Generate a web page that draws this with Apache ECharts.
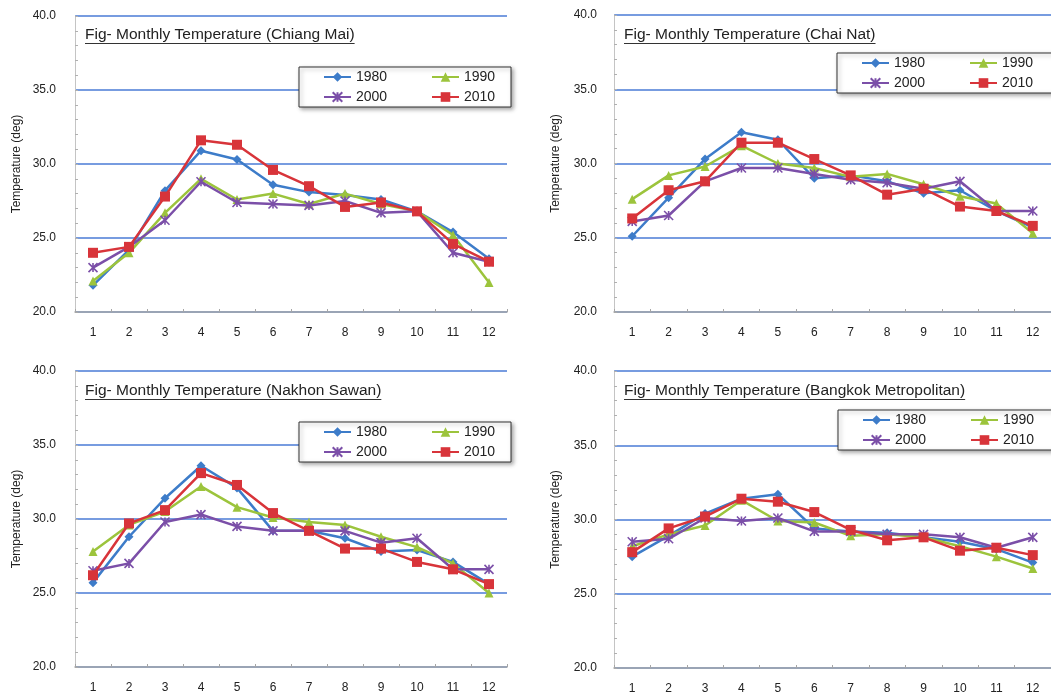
<!DOCTYPE html>
<html>
<head>
<meta charset="utf-8">
<script src="https://cdn.jsdelivr.net/npm/echarts@6/dist/echarts.min.js"></script>
<style>
  html, body { margin: 0; padding: 0; background: #fff; }
  #chart { width: 1051px; height: 700px; }
</style>
</head>
<body>
<div id="chart"></div>
<script>
// Months on the category axis
const months = ['1', '2', '3', '4', '5', '6', '7', '8', '9', '10', '11', '12'];
const years = ['1980', '1990', '2000', '2010'];
const stations = ['Chiang Mai', 'Chai Nat', 'Nakhon Sawan', 'Bangkok Metropolitan'];

// Mean monthly temperature (deg), Chiang Mai
const chiangMai1980 = [21.8, 24.2, 28.2, 30.9, 30.3, 28.6, 28.1, 27.9, 27.6, 26.8, 25.4, 23.6];
const chiangMai1990 = [22.1, 24.0, 26.7, 29.0, 27.6, 28.0, 27.3, 28.0, 27.3, 26.8, 25.2, 22.0];
const chiangMai2000 = [23.0, 24.4, 26.2, 28.8, 27.4, 27.3, 27.2, 27.5, 26.7, 26.8, 24.0, 23.4];
const chiangMai2010 = [24.0, 24.4, 27.8, 31.6, 31.3, 29.6, 28.5, 27.1, 27.4, 26.8, 24.6, 23.4];

// Chai Nat
const chaiNat1980 = [25.1, 27.7, 30.3, 32.1, 31.6, 29.0, 29.2, 28.8, 28.0, 28.2, 26.8, 25.7];
const chaiNat1990 = [27.6, 29.2, 29.8, 31.2, 30.0, 29.7, 29.1, 29.3, 28.6, 27.8, 27.3, 25.3];
const chaiNat2000 = [26.1, 26.5, 28.8, 29.7, 29.7, 29.3, 28.9, 28.7, 28.3, 28.8, 26.8, 26.8];
const chaiNat2010 = [26.3, 28.2, 28.8, 31.4, 31.4, 30.3, 29.2, 27.9, 28.3, 27.1, 26.8, 25.8];

// Nakhon Sawan
const nakhonSawan1980 = [25.7, 28.8, 31.4, 33.6, 32.1, 29.2, 29.2, 28.7, 27.8, 27.9, 27.1, 25.6];
const nakhonSawan1990 = [27.8, 29.6, 30.5, 32.2, 30.8, 30.1, 29.8, 29.6, 28.8, 28.1, 27.0, 25.0];
const nakhonSawan2000 = [26.5, 27.0, 29.8, 30.3, 29.5, 29.2, 29.2, 29.2, 28.4, 28.7, 26.6, 26.6];
const nakhonSawan2010 = [26.2, 29.7, 30.6, 33.1, 32.3, 30.4, 29.2, 28.0, 28.0, 27.1, 26.6, 25.6];

// Bangkok Metropolitan
const bangkok1980 = [27.5, 28.9, 30.4, 31.4, 31.7, 29.4, 29.2, 29.1, 28.8, 28.5, 28.0, 27.1];
const bangkok1990 = [28.2, 29.0, 29.6, 31.3, 29.9, 29.8, 28.9, 29.0, 28.8, 28.2, 27.5, 26.7];
const bangkok2000 = [28.5, 28.7, 30.1, 29.9, 30.1, 29.2, 29.2, 29.0, 29.0, 28.8, 28.1, 28.8];
const bangkok2010 = [27.8, 29.4, 30.2, 31.4, 31.2, 30.5, 29.3, 28.6, 28.8, 27.9, 28.1, 27.6];

const stationSeries = [
  [chiangMai1980, chiangMai1990, chiangMai2000, chiangMai2010],
  [chaiNat1980, chaiNat1990, chaiNat2000, chaiNat2010],
  [nakhonSawan1980, nakhonSawan1990, nakhonSawan2000, nakhonSawan2010],
  [bangkok1980, bangkok1990, bangkok2000, bangkok2010]
];

const FONT = '"Liberation Sans", Arial, sans-serif';
const TEXT = '#222';
const GRID_BLUE = '#4a7bd6';
const AXIS_GREY = '#a6a6a6';

const yearStyles = [
  { color: '#3d7cc9', symbol: 'diamond', size: 9 },
  { color: '#9cc43c', symbol: 'triangle', size: 9 },
  { color: '#7b4fa8', symbol: 'path://M0,0L10,10M10,0L0,10M5,0L5,10', size: 9 },
  { color: '#d8343a', symbol: 'rect', size: 10 }
];

// Panel layout: plot rectangles, legend boxes and captions
const panels = [
  { grid: { left: 75, top: 16, width: 432, height: 296 }, legend: { left: 299, top: 67 }, title: { x: 85, y: 36 }, labelMargin: 19, legendPadRight: 7 },
  { grid: { left: 614, top: 15, width: 437, height: 297 }, legend: { left: 837, top: 53 }, title: { x: 624, y: 36 }, labelMargin: 17, legendPadRight: 20 },
  { grid: { left: 75, top: 371, width: 432, height: 296 }, legend: { left: 299, top: 422 }, title: { x: 85, y: 392 }, labelMargin: 19, legendPadRight: 7 },
  { grid: { left: 614, top: 371, width: 437, height: 297 }, legend: { left: 838, top: 410 }, title: { x: 624, y: 392 }, labelMargin: 17, legendPadRight: 20 }
];

const measureCtx = document.createElement('canvas').getContext('2d');
function textWidth(str, size) {
  measureCtx.font = size + 'px ' + FONT;
  return measureCtx.measureText(str).width;
}

const CAPTION_SIZE = 15.5;
const grids = [], xAxes = [], yAxes = [], legends = [], series = [], graphics = [];

panels.forEach((p, i) => {
  grids.push(p.grid);

  // drawn above the y split lines so the 20.0 line stays grey
  xAxes.push({
    gridIndex: i,
    type: 'category',
    z: 3,
    data: months,
    boundaryGap: true,
    axisLine: { show: true, lineStyle: { color: AXIS_GREY, width: 1.5 } },
    axisTick: { show: true, inside: true, length: 3, lineStyle: { color: AXIS_GREY } },
    axisLabel: { color: TEXT, fontSize: 12, fontFamily: FONT, margin: 15 },
    splitLine: { show: false }
  });

  yAxes.push({
    gridIndex: i,
    type: 'value',
    z: 0,
    min: 20,
    max: 40,
    interval: 5,
    name: 'Temperature (deg)',
    nameLocation: 'middle',
    nameGap: 52,
    nameTextStyle: { color: TEXT, fontSize: 12, fontFamily: FONT },
    axisLine: { show: true, lineStyle: { color: '#c4c4c4', width: 1 } },
    axisTick: { show: true, inside: true, length: 3, lineStyle: { color: '#b0b0b0' } },
    minorTick: { show: true, splitNumber: 5, length: 3, lineStyle: { color: '#b0b0b0' } },
    axisLabel: {
      color: TEXT, fontSize: 12, fontFamily: FONT, margin: p.labelMargin,
      formatter: v => v.toFixed(1)
    },
    splitLine: { show: true, lineStyle: { color: GRID_BLUE, width: 1.5 } }
  });

  legends.push({
    left: p.legend.left,
    top: p.legend.top,
    width: 185,
    orient: 'horizontal',
    itemWidth: 27,
    itemHeight: 12,
    itemGap: 6,
    padding: [3, p.legendPadRight, 3, 24],
    backgroundColor: '#fff',
    borderColor: '#333',
    borderWidth: 1,
    shadowBlur: 4,
    shadowColor: 'rgba(0,0,0,0.35)',
    shadowOffsetX: 2,
    shadowOffsetY: 2,
    textStyle: { color: TEXT, fontSize: 14, fontFamily: FONT, lineHeight: 14 },
    data: [
      { name: '1980', textStyle: { width: 69 } },
      { name: '1990', textStyle: { width: 40 } },
      { name: '2000', textStyle: { width: 69 } },
      { name: '2010', textStyle: { width: 40 } }
    ]
  });

  stationSeries[i].forEach((values, k) => {
    const st = yearStyles[k];
    series.push({
      name: years[k],
      type: 'line',
      xAxisIndex: i,
      yAxisIndex: i,
      data: values,
      symbol: st.symbol,
      symbolSize: st.size,
      showAllSymbol: true,
      lineStyle: { color: st.color, width: 2.5 },
      itemStyle: { color: st.color, borderColor: st.color, borderWidth: k === 2 ? 1.6 : 0 },
      z: 4 + k
    });
  });

  // Underlined panel caption
  const caption = 'Fig- Monthly Temperature (' + stations[i] + ')';
  const w = textWidth(caption, CAPTION_SIZE);
  graphics.push({
    type: 'text',
    left: p.title.x,
    top: p.title.y - 9,
    z: 10,
    style: { text: caption, fill: TEXT, font: CAPTION_SIZE + 'px ' + FONT }
  });
  graphics.push({
    type: 'line',
    z: 10,
    shape: { x1: p.title.x, y1: p.title.y + 7.5, x2: p.title.x + w, y2: p.title.y + 7.5 },
    style: { stroke: '#333', lineWidth: 1 }
  });
});

const chart = echarts.init(document.getElementById('chart'), null, { renderer: 'canvas' });
chart.setOption({
  animation: false,
  backgroundColor: '#fff',
  grid: grids,
  xAxis: xAxes,
  yAxis: yAxes,
  legend: legends,
  series: series,
  graphic: graphics
});
</script>
</body>
</html>
